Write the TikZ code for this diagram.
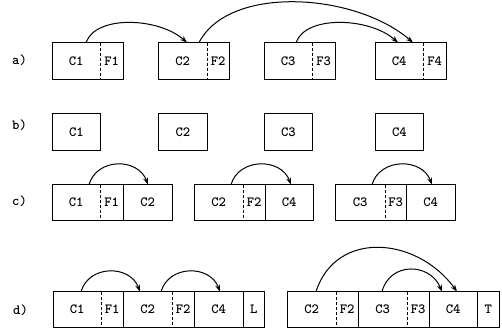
\documentclass[tikz,border=0pt]{standalone}
\usetikzlibrary{arrows.meta}
\begin{document}
\begin{tikzpicture}[x=1pt,y=1pt,
  reg/.style={rectangle,inner sep=0pt,anchor=south west,font=\ttfamily\bfseries\fontsize{14}{14}\selectfont},
  box/.style={draw,line width=0.9pt},
  dv/.style={line width=0.9pt,dash pattern=on 3pt off 2pt},
  sv/.style={line width=0.9pt},
  arr/.style={line width=1pt,-{Stealth[length=7pt,width=5pt]}},
  lab/.style={anchor=west,inner sep=0pt,font=\ttfamily\bfseries\fontsize{14}{14}\selectfont}]
\useasboundingbox (0,0) rectangle (502,328);

% labels
\node[lab] (la) at (12,268) {a)};
\node[lab] (lb) at (12,203) {b)};
\node[lab] (lc) at (12,127) {c)};
\node[lab] (ld) at (13,18) {d)};

% ---------- row a ----------
\begin{scope}[every node/.append style={minimum height=36pt}]
\node[reg,minimum width=48pt] (a1c) at (52,249) {C1};
\node[reg,minimum width=23pt] (a1f) at (100,249) {F1};
\node[reg,minimum width=49pt] (a2c) at (158,249) {C2};
\node[reg,minimum width=22pt] (a2f) at (207,249) {F2};
\node[reg,minimum width=48pt] (a3c) at (264,249) {C3};
\node[reg,minimum width=23pt] (a3f) at (312,249) {F3};
\node[reg,minimum width=48pt] (a4c) at (375,249) {C4};
\node[reg,minimum width=23pt] (a4f) at (423,249) {F4};
\end{scope}
\foreach \c/\f in {a1c/a1f,a2c/a2f,a3c/a3f,a4c/a4f}{
  \draw[box] (\c.south west) rectangle (\f.north east);
  \draw[dv] (\c.north east) -- (\c.south east);
}
\draw[arr] ([xshift=34pt]a1c.north west) .. controls +(10,28) and +(-28,25) .. ([xshift=29pt]a2c.north west);
\draw[arr] ([xshift=41pt]a2c.north west) .. controls +(30,58) and +(-58,50) .. ([xshift=38pt]a4c.north west);
\draw[arr] ([xshift=32pt]a3c.north west) .. controls +(10,28) and +(-28,25) .. ([xshift=23pt]a4c.north west);

% ---------- row b ----------
\begin{scope}[every node/.append style={minimum height=37pt}]
\node[reg,box,minimum width=48pt] (b1) at (52,177) {C1};
\node[reg,box,minimum width=49pt] (b2) at (158,177) {C2};
\node[reg,box,minimum width=48pt] (b3) at (264,177) {C3};
\node[reg,box,minimum width=48pt] (b4) at (375,177) {C4};
\end{scope}

% ---------- row c ----------
\begin{scope}[every node/.append style={minimum height=35pt}]
\node[reg,minimum width=48pt] (c1c) at (52,108) {C1};
\node[reg,minimum width=23pt] (c1f) at (100,108) {F1};
\node[reg,minimum width=49pt] (c1r) at (123,108) {C2};
\node[reg,minimum width=49pt] (c2c) at (194,108) {C2};
\node[reg,minimum width=22pt] (c2f) at (243,108) {F2};
\node[reg,minimum width=48pt] (c2r) at (265,108) {C4};
\node[reg,minimum width=50pt] (c3c) at (335,108) {C3};
\node[reg,minimum width=21pt] (c3f) at (385,108) {F3};
\node[reg,minimum width=49pt] (c3r) at (406,108) {C4};
\end{scope}
\foreach \c/\f/\r in {c1c/c1f/c1r,c2c/c2f/c2r,c3c/c3f/c3r}{
  \draw[box] (\c.south west) rectangle (\r.north east);
  \draw[dv] (\c.north east) -- (\c.south east);
  \draw[sv] (\f.north east) -- (\f.south east);
}
\draw[arr] ([xshift=37pt]c1c.north west) .. controls +(8,27) and +(-10,27) .. ([xshift=25pt]c1r.north west);
\draw[arr] ([xshift=37pt]c2c.north west) .. controls +(8,27) and +(-10,27) .. ([xshift=26pt]c2r.north west);
\draw[arr] ([xshift=37pt]c3c.north west) .. controls +(8,27) and +(-10,27) .. ([xshift=26pt]c3r.north west);

% ---------- row d ----------
\begin{scope}[every node/.append style={minimum height=35pt}]
\node[reg,minimum width=48pt] (dl1) at (53,1) {C1};
\node[reg,minimum width=22pt] (dlf1) at (101,1) {F1};
\node[reg,minimum width=49pt] (dl2) at (123,1) {C2};
\node[reg,minimum width=22pt] (dlf2) at (172,1) {F2};
\node[reg,minimum width=49pt] (dl3) at (194,1) {C4};
\node[reg,minimum width=21pt] (dlL) at (243,1) {L};
\node[reg,minimum width=49pt] (dr1) at (287,1) {C2};
\node[reg,minimum width=22pt] (drf1) at (336,1) {F2};
\node[reg,minimum width=49pt] (dr2) at (358,1) {C3};
\node[reg,minimum width=22pt] (drf2) at (407,1) {F3};
\node[reg,minimum width=48pt] (dr3) at (429,1) {C4};
\node[reg,minimum width=22pt] (drT) at (477,1) {T};
\end{scope}
\draw[box] (dl1.south west) rectangle (dlL.north east);
\draw[box] (dr1.south west) rectangle (drT.north east);
\foreach \n in {dl1,dl2,dr1,dr2}{
  \draw[dv] (\n.north east) -- (\n.south east);
}
\foreach \n in {dlf1,dlf2,dl3,drf1,drf2,dr3}{
  \draw[sv] (\n.north east) -- (\n.south east);
}
\draw[arr] ([xshift=28pt]dl1.north west) .. controls +(8,27) and +(-10,27) .. ([xshift=17pt]dl2.north west);
\draw[arr] ([xshift=38pt]dl2.north west) .. controls +(8,27) and +(-10,27) .. ([xshift=26pt]dl3.north west);
\draw[arr] ([xshift=29pt]dr1.north west) .. controls +(20,62) and +(-40,55) .. ([xshift=28pt]dr3.north west);
\draw[arr] ([xshift=24pt]dr2.north west) .. controls +(8,30) and +(-12,29) .. ([xshift=13pt]dr3.north west);
\end{tikzpicture}
\end{document}
